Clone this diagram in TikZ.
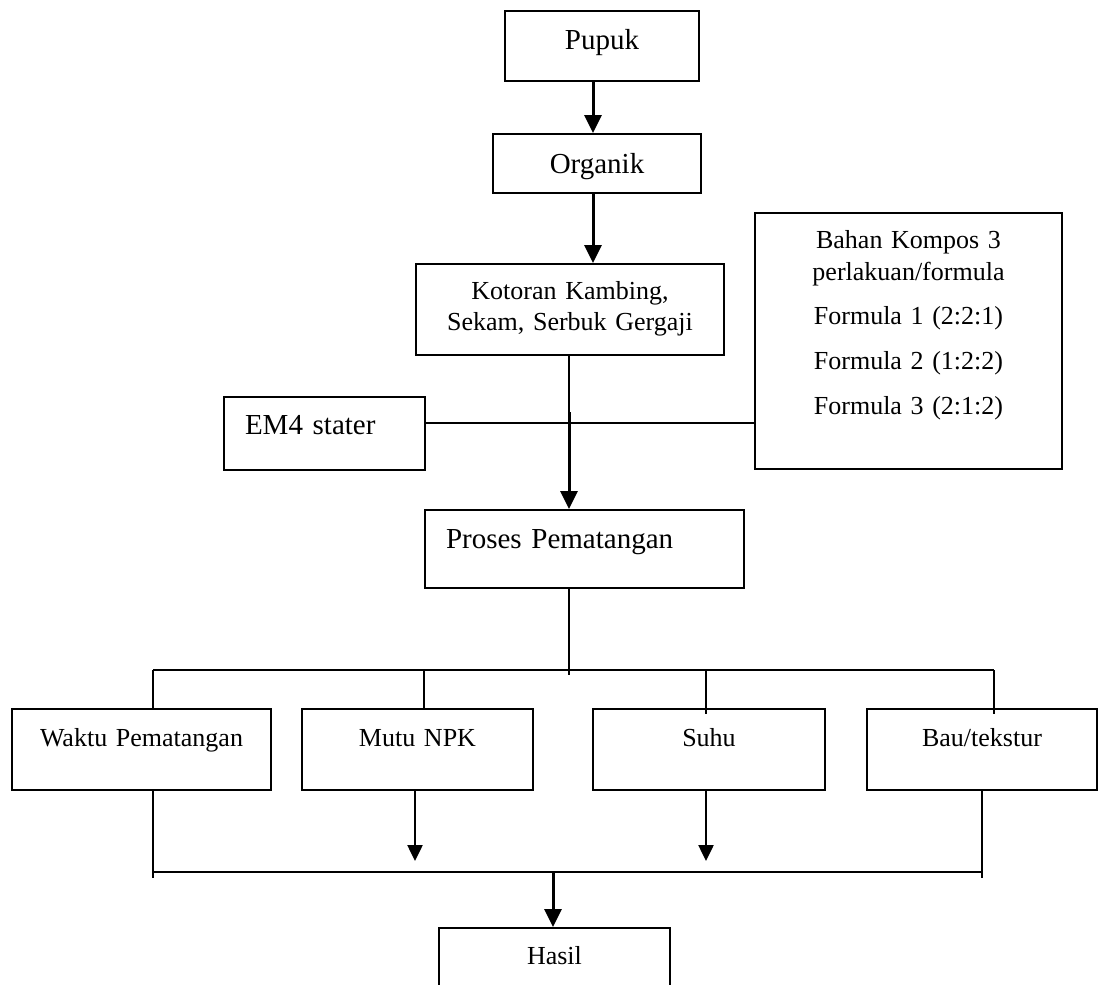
\documentclass[tikz,border=0pt]{standalone}
\usepackage{fontspec}
\setmainfont{Liberation Serif}
\usetikzlibrary{arrows.meta}
\begin{document}
\begin{tikzpicture}[x=1pt,y=-1pt,
  bx/.style={draw, line width=2pt, rectangle, inner sep=0pt, anchor=north west},
  big/.style={font=\fontsize{29}{31}\selectfont},
  sml/.style={font=\fontsize{26}{31}\selectfont},
  ln/.style={line width=1.6pt},
  arr/.style={line width=3pt, -{Triangle[length=18pt,width=17pt]}},
  arrs/.style={line width=2.5pt, -{Triangle[length=16pt,width=15pt]}},
]
\useasboundingbox (0,0) rectangle (1098,985);
\clip (0,0) rectangle (1098,985);
% boxes
\node[bx,big,minimum width=194pt,minimum height=70pt,text width=194pt,align=center,text height=38pt,text depth=32pt] (pupuk) at (504,10) {Pupuk};
\node[bx,big,minimum width=208pt,minimum height=59pt,text width=208pt,align=center,text height=39pt,text depth=20pt] (org) at (492,133) {Organik};
\node[bx,sml,minimum width=308pt,minimum height=91pt,text width=308pt,align=center,text height=35pt,text depth=56pt] (kot) at (415,263) {Kotoran Kambing,\\Sekam, Serbuk Gergaji};
\node[bx,font=\fontsize{26}{32}\selectfont,minimum width=307pt,minimum height=256pt,text width=307pt,align=center,text height=35pt,text depth=221pt] (bahan) at (754,212) {Bahan Kompos 3\\perlakuan/formula\\[12pt]Formula 1 (2:2:1)\\[13pt]Formula 2 (1:2:2)\\[13pt]Formula 3 (2:1:2)};
\node[bx,big,minimum width=201pt,minimum height=73pt,text width=201pt,align=left,text height=37pt,text depth=36pt] (em4) at (223,396) {\hspace*{21pt}EM4 stater};
\node[bx,big,minimum width=319pt,minimum height=78pt,text width=319pt,align=left,text height=38pt,text depth=40pt] (proses) at (424,509) {\hspace*{21pt}Proses Pematangan};
\node[bx,sml,minimum width=259pt,minimum height=81pt,text width=259pt,align=center,text height=37pt,text depth=44pt] (waktu) at (11,708) {Waktu Pematangan};
\node[bx,sml,minimum width=231pt,minimum height=81pt,text width=231pt,align=center,text height=37pt,text depth=44pt] (mutu) at (301,708) {Mutu NPK};
\node[bx,sml,minimum width=232pt,minimum height=81pt,text width=232pt,align=center,text height=37pt,text depth=44pt] (suhu) at (592,708) {Suhu};
\node[bx,sml,minimum width=230pt,minimum height=81pt,text width=230pt,align=center,text height=37pt,text depth=44pt] (bau) at (866,708) {Bau/tekstur};
\node[bx,sml,minimum width=231pt,minimum height=80pt,text width=231pt,align=center,text height=36pt,text depth=44pt] (hasil) at (438,927) {Hasil};
% junction coordinates
\coordinate (j) at (569,423);
\coordinate (s) at (569,412);
\coordinate (pt) at (569,675);
\coordinate (b1) at (153,670);
\coordinate (b2) at (994,670);
\coordinate (c1) at (153,872);
\coordinate (c2) at (982,872);
% connectors
\draw[arr] (593,0 |- pupuk.south) -- (593,0 |- org.north);
\draw[arr] (593,0 |- org.south) -- (593,0 |- kot.north);
\draw[ln] (569,0 |- kot.south) -- (569,0 |- em4.south);
\draw[ln] (em4.east |- j) -- (bahan.west |- j);
\draw[arr] (s) -- (569,0 |- proses.north);
\draw[ln] (569,0 |- proses.south) -- (pt);
\draw[ln] (b1) -- (b2);
\draw[ln] (b1) -- (153,0 |- waktu.north);
\draw[ln] (424,670) -- (424,0 |- mutu.north);
\draw[ln] (706,670) -- (706,714);
\draw[ln] (b2) -- (994,714);
\draw[ln] (153,0 |- waktu.south) -- (153,878);
\draw[ln] (982,0 |- bau.south) -- (982,878);
\draw[line width=2.2pt] (c1) -- (c2);
\draw[arrs] (415,0 |- mutu.south) -- (415,861);
\draw[arrs] (706,0 |- suhu.south) -- (706,861);
\draw[arr] (553,872) -- (553,0 |- hasil.north);
\end{tikzpicture}
\end{document}
